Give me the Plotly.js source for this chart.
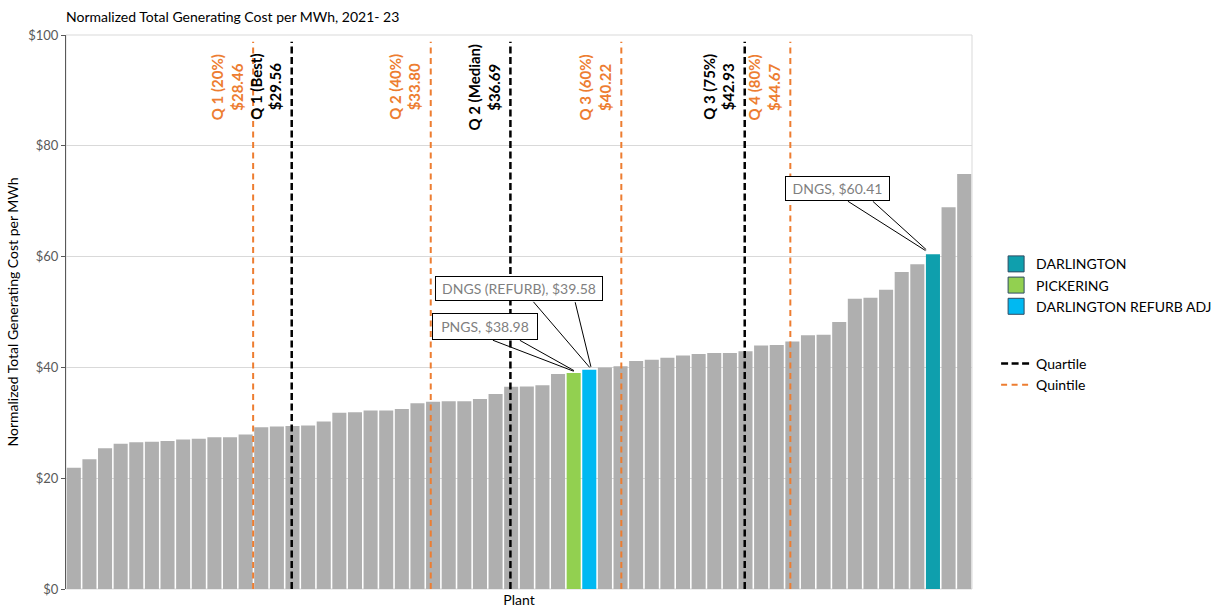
<!DOCTYPE html>
<html>
<head>
<meta charset="utf-8">
<script src="https://cdn.plot.ly/plotly-3.0.1.min.js"></script>
<style>html,body{margin:0;padding:0;background:#fff;}#chart{width:1212px;height:608px;}</style>
</head>
<body>
<div id="chart"></div>
<script>
// ---- data ----
var costs = [21.9, 23.4, 25.4, 26.2, 26.5, 26.6, 26.7, 27.0, 27.1, 27.4,
             27.4, 27.9, 29.2, 29.35, 29.4, 29.5, 30.25, 31.8, 31.9, 32.2,
             32.2, 32.5, 33.55, 33.8, 33.9, 33.9, 34.3, 35.2, 36.5, 36.55,
             36.8, 38.8, 38.98, 39.58, 40.0, 40.2, 41.15, 41.4, 41.75, 42.15,
             42.4, 42.6, 42.6, 42.93, 43.95, 44.05, 44.67, 45.8, 45.9, 48.2,
             52.4, 52.55, 54.0, 57.2, 58.6, 60.41, 68.9, 74.9];
var plantGroup = [];
for (var i = 0; i < costs.length; i++) plantGroup.push('Other');
plantGroup[32] = 'PICKERING';
plantGroup[33] = 'DARLINGTON REFURB ADJ';
plantGroup[55] = 'DARLINGTON';

var legendGroups = ['DARLINGTON', 'PICKERING', 'DARLINGTON REFURB ADJ'];
var groupColors = {'Other': '#AFAFAF', 'DARLINGTON': '#0F9FAD', 'PICKERING': '#92D050', 'DARLINGTON REFURB ADJ': '#00B9F2'};

var quartileLabels = ['Q 1 (Best)', 'Q 2 (Median)', 'Q 3 (75%)'];
var quartileValues = [29.56, 36.69, 42.93];
var quartilePos = [13.95, 27.95, 42.95];

var quintileLabels = ['Q 1 (20%)', 'Q 2 (40%)', 'Q 3 (60%)', 'Q 4 (80%)'];
var quintileValues = [28.46, 33.80, 40.22, 44.67];
var quintilePos = [11.48, 22.85, 35.05, 45.87];

var calloutLabels = ['PNGS, $38.98', 'DNGS (REFURB), $39.58', 'DNGS, $60.41'];
var calloutIndex = [32, 33, 55];

// ---- styling ----
var FONT = 'Lato, "Open Sans", sans-serif';
var QCOL = '#000000', PCOL = '#ED7D31';
var lineTop = 98.8;

var traces = [];
var allGroups = ['Other'].concat(legendGroups);
allGroups.forEach(function (g) {
  var xs = [], ys = [];
  costs.forEach(function (v, i) { if (plantGroup[i] === g) { xs.push(i); ys.push(v); } });
  traces.push({type: 'bar', x: xs, y: ys, width: 0.9, name: g, showlegend: false,
    marker: {color: groupColors[g], line: {width: 0}}, hoverinfo: 'y'});
});
// legend entries for plants
legendGroups.forEach(function (g) {
  traces.push({type: 'scatter', mode: 'markers', x: [null], y: [null], name: g, legendgroup: 'plants',
    marker: {symbol: 'square', size: 16, color: groupColors[g], line: {color: '#2E4A62', width: 1}}});
});
// quartile / quintile lines
function vline(pos, color, dash, width, name, first) {
  return {type: 'scatter', mode: 'lines', x: [pos, pos], y: [0, lineTop], name: name,
    legendgroup: 'stats', showlegend: first, line: {color: color, dash: dash, width: width}, hoverinfo: 'skip'};
}
quartilePos.forEach(function (p, k) { traces.push(vline(p, QCOL, '7px,3.5px', 2.5, 'Quartile', k === 0)); });
quintilePos.forEach(function (p, k) { traces.push(vline(p, PCOL, '6px,4.5px', 2, 'Quintile', k === 0)); });

var annotations = [];
function statLabel(pos, lbl, val, color) {
  return {x: pos, y: 90.6, xref: 'x', yref: 'y', text: lbl + '<br>$' + val.toFixed(2), textangle: -90,
    showarrow: false, xanchor: 'right', yanchor: 'middle', xshift: -5, align: 'center',
    font: {family: FONT, size: 15, color: color, weight: 'bold'}};
}
quartilePos.forEach(function (p, k) { annotations.push(statLabel(p, quartileLabels[k], quartileValues[k], QCOL)); });
quintilePos.forEach(function (p, k) { annotations.push(statLabel(p, quintileLabels[k], quintileValues[k], PCOL)); });

// callouts: [xNudge, boxAx, boxAy, tail1, tail2, standoff, boxW, boxH]
var calloutGeom = [
  [0.3, -93.5, -47, [-86, -33], [-59, -33], 5, 96, 17],
  [0.15, -72.7, -81, [-58.7, -68.5], [-16.7, -68.5], 3, 158, 15],
  [-0.1, -94, -66, [-84, -53.4], [-59, -53.4], 7, 95, 15]
];
calloutLabels.forEach(function (t, k) {
  var g = calloutGeom[k], xi = calloutIndex[k] + g[0], yv = costs[calloutIndex[k]];
  [g[3], g[4]].forEach(function (tl) {
    annotations.push({x: xi, y: yv, xref: 'x', yref: 'y', text: ' ', font: {size: 1},
      showarrow: true, arrowhead: 0, arrowwidth: 1, arrowcolor: '#000', ax: tl[0], ay: tl[1],
      standoff: g[5], borderpad: 0});
  });
  annotations.push({x: xi, y: yv, xref: 'x', yref: 'y', text: t,
    showarrow: true, arrowcolor: 'rgba(0,0,0,0)', arrowwidth: 0.1, arrowhead: 0, ax: g[1], ay: g[2],
    bgcolor: '#FFFFFF', bordercolor: '#000000', borderwidth: 1, borderpad: 4, width: g[6], height: g[7],
    font: {family: FONT, size: 14, color: '#7F7F7F'}});
});

var layout = {
  width: 1212, height: 608,
  margin: {l: 66, r: 240, t: 35, b: 19, autoexpand: false},
  paper_bgcolor: '#fff', plot_bgcolor: '#fff',
  font: {family: FONT, size: 12, color: '#000'},
  title: {text: 'Normalized Total Generating Cost per MWh, 2021- 23', x: 66 / 1212, xanchor: 'left',
    xref: 'container', y: 1 - 17 / 608, yanchor: 'middle', font: {family: FONT, size: 14, color: '#000'}},
  barmode: 'overlay',
  xaxis: {range: [-0.5, costs.length - 0.5], showticklabels: false, ticks: '', showgrid: false, zeroline: false,
    showline: false, title: {text: 'Plant', standoff: 7, font: {family: FONT, size: 14, color: '#000'}}, automargin: false},
  yaxis: {range: [0, 100], dtick: 20, tickprefix: '$', showgrid: true, gridcolor: '#D9D9D9', gridwidth: 1,
    zeroline: false, showline: true, linecolor: '#595959', linewidth: 1, ticks: 'outside', ticklen: 4,
    tickcolor: '#595959', tickfont: {family: FONT, size: 13, color: '#595959'}, automargin: false,
    title: {text: 'Normalized Total Generating Cost per MWh', standoff: 6, font: {family: FONT, size: 14, color: '#000'}}},
  legend: {x: 1.0266, y: 0.615, xanchor: 'left', yanchor: 'top', tracegroupgap: 36,
    font: {family: FONT, size: 14, color: '#000'}, bgcolor: 'rgba(0,0,0,0)'},
  shapes: [{type: 'rect', xref: 'paper', yref: 'paper', x0: 0, x1: 1, y0: 0, y1: 1,
    line: {color: '#D9D9D9', width: 1}, layer: 'below'}],
  annotations: annotations
};

Plotly.newPlot('chart', traces, layout, {displayModeBar: false, staticPlot: true});
</script>
</body>
</html>
